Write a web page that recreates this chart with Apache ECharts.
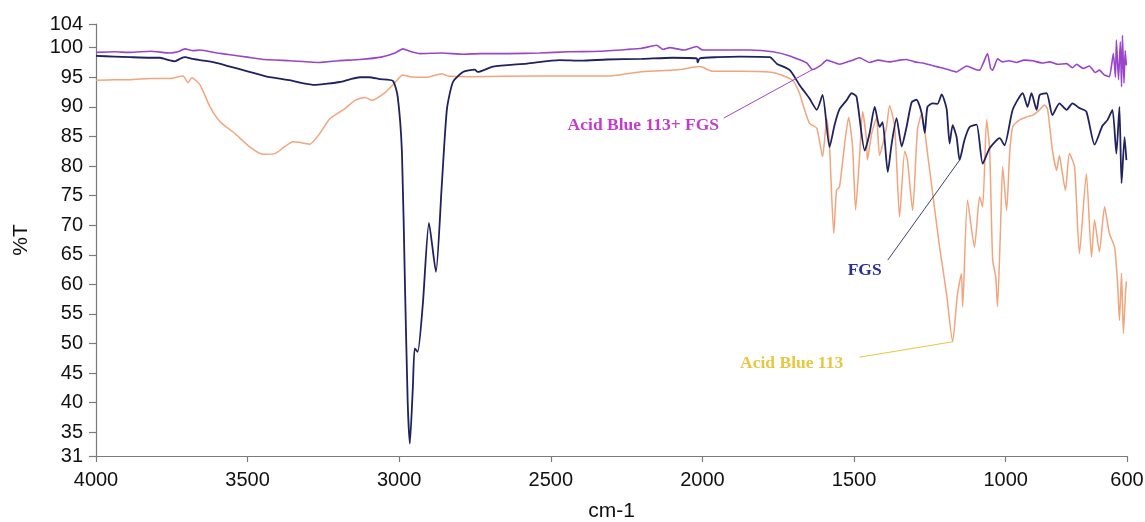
<!DOCTYPE html>
<html>
<head>
<meta charset="utf-8">
<title>FTIR spectra</title>
<script src="https://cdn.jsdelivr.net/npm/echarts@6/dist/echarts.min.js"></script>
<style>
  html, body { margin: 0; padding: 0; background: #ffffff; }
  #chart { width: 1145px; height: 522px; }
</style>
</head>
<body>
<div id="chart"></div>
<script>
// Tick labels
const xTicks = [4000, 3500, 3000, 2500, 2000, 1500, 1000, 600];
const yTicks = [31, 35, 40, 45, 50, 55, 60, 65, 70, 75, 80, 85, 90, 95, 100, 104];

// Acid Blue 113 + FGS  (wavenumber, %T)
const mixWn = [4000,3940,3888,3820,3756,3730,3707,3680,3657,3600,3558,3500,3443,3360,3262,3200,3130,3060,3014,2988,2960,2932,2860,2790,2734,2640,2537,2440,2339,2250,2200,2151,2130,2108,2060,2019,2000,1943,1844,1768,1712,1656,1637,1610,1590,1548,1510,1482,1449,1420,1383,1350,1327,1300,1274,1228,1190,1162,1129,1100,1086,1060,1050,1043,1027,1010,990,964,940,911,880,855,830,799,780,766,745,724,705,691,675,658,645,638,635,628,622,618,615,610,606,602];
const mixT = [99.2,99.3,99.2,99.4,99.1,99.3,99.8,99.5,99.6,99.1,98.8,98.4,98.0,97.8,97.5,97.8,98.0,98.4,99.1,99.8,99.3,99.0,99.1,98.9,99.0,99.0,99.1,99.3,99.4,99.7,99.9,100.4,99.7,100.0,99.6,100.2,99.6,99.6,99.6,99.3,98.6,97.4,96.3,97.0,97.9,97.2,97.8,98.3,97.5,97.9,97.6,97.9,98.0,97.6,97.4,96.8,96.3,95.9,96.9,96.3,96.2,99.0,96.5,96.2,98.1,97.6,97.8,97.5,97.9,97.8,97.4,97.6,97.2,97.3,96.6,97.2,96.5,96.9,95.8,96.2,95.4,95.1,99.0,95.0,101.3,94.6,101.0,93.4,102.1,94.0,99.5,97.0];

// FGS
const fgsWn = [4000,3940,3888,3820,3789,3760,3740,3720,3707,3680,3657,3610,3558,3500,3443,3400,3361,3320,3278,3240,3196,3160,3130,3100,3064,3021,3005,2991,2981,2972,2965,2955,2949,2939,2922,2902,2879,2860,2843,2823,2790,2751,2741,2691,2579,2471,2400,2316,2200,2100,2019,2016,2009,1950,1877,1778,1755,1712,1680,1647,1623,1604,1581,1564,1548,1525,1508,1492,1465,1449,1432,1416,1406,1389,1376,1360,1343,1327,1310,1294,1277,1267,1258,1241,1225,1211,1195,1185,1175,1162,1152,1136,1119,1096,1076,1053,1020,1004,977,944,928,915,898,888,865,846,823,799,780,757,734,707,681,664,648,635,625,618,608,602];
const fgsT = [98.6,98.5,98.4,98.3,98.3,97.9,97.7,98.2,98.4,98.1,97.9,97.5,96.8,96.0,95.2,94.8,94.5,94.0,93.7,93.9,94.2,94.7,95.0,95.0,94.7,94.4,91.7,82.2,59.6,39.9,33.1,42.7,49.2,48.6,56.8,70.4,62.1,76.5,89.5,94.2,95.9,96.3,95.9,96.8,97.3,97.9,97.8,98.0,98.1,98.3,98.2,97.5,98.2,98.4,98.5,98.4,97.3,96.2,93.7,91.4,89.5,92.0,83.2,87.0,89.6,91.1,92.3,91.7,82.6,85.5,90.0,86.6,87.4,79.0,83.8,88.1,83.3,86.6,90.8,91.2,88.9,85.6,90.0,90.6,90.5,92.1,89.7,83.8,86.9,84.9,81.0,84.4,86.6,87.0,80.4,83.0,84.7,83.5,89.5,92.3,90.0,92.3,89.5,92.0,92.3,88.6,90.6,89.5,90.6,89.8,89.2,83.6,86.8,87.8,89.5,82.1,90.0,77.1,84.9,81.0];

// Acid Blue 113
const dyeWn = [4000,3940,3888,3820,3756,3713,3697,3684,3657,3624,3591,3542,3492,3450,3410,3377,3351,3318,3295,3262,3229,3179,3146,3113,3090,3047,3021,2988,2965,2909,2860,2840,2767,2537,2316,2207,2140,2075,2030,2009,1966,1877,1768,1703,1680,1670,1647,1623,1604,1590,1581,1567,1558,1548,1531,1518,1505,1495,1482,1472,1459,1456,1442,1426,1416,1393,1383,1366,1350,1333,1324,1307,1291,1277,1258,1241,1218,1195,1175,1159,1146,1142,1126,1103,1086,1076,1063,1053,1043,1033,1027,1017,1010,997,987,977,954,931,911,888,872,862,846,832,823,813,803,790,773,757,734,717,707,691,674,658,641,631,625,618,612,605,602];
const dyeT = [94.5,94.6,94.6,94.8,94.8,95.2,94.1,94.9,93.7,90.0,87.5,85.5,83.2,82.0,82.1,83.3,84.1,83.9,83.7,85.5,88.0,89.7,91.1,91.6,91.1,92.4,93.7,95.4,95.1,95.0,95.6,95.2,95.1,95.2,95.2,95.9,96.1,96.3,96.7,96.8,96.0,96.0,95.8,94.5,92.3,90.6,87.2,86.4,81.6,88.0,83.3,68.6,75.9,76.5,83.8,88.2,83.3,72.6,81.6,89.2,84.4,81.0,85.5,88.1,81.8,86.6,90.2,86.6,71.4,82.5,81.0,72.5,86.1,88.9,82.2,75.4,66.3,58.4,50.3,58.4,61.8,56.2,74.2,66.3,74.8,73.1,87.8,82.7,64.1,61.3,56.2,69.7,79.9,72.5,82.1,86.6,87.8,88.3,88.6,89.5,90.3,89.6,82.7,79.3,81.8,78.7,75.9,82.1,79.9,65.2,78.7,64.6,70.9,65.5,73.1,68.6,66.3,60.2,53.9,61.9,51.7,58.5,60.5];

// Callout labels: text anchor and leader line, in (wavenumber, %T)
const callouts = [
  { text: 'Acid Blue 113+ FGS', color: '#c43ccc', line: '#a443c8', at: [2195, 86.9], from: [1930, 88.1], to: [1637, 96.3] },
  { text: 'FGS', color: '#2c3190', line: '#3d4466', at: [1465, 62.4], from: [1389, 64.1], to: [1152, 81.0] },
  { text: 'Acid Blue 113', color: '#e8c640', line: '#e8c640', at: [1706, 46.7], from: [1482, 47.7], to: [1175, 50.3] }
];

const zip = (xs, ys) => xs.map((x, i) => [x, ys[i]]);

const chart = echarts.init(document.getElementById('chart'), null, { renderer: 'canvas' });

const axisFont = { fontFamily: 'Liberation Sans', fontSize: 20, color: '#111111' };
const plain = (v) => String(v);

chart.setOption({
  animation: false,
  backgroundColor: '#ffffff',
  grid: { left: 96, right: 18, top: 24, bottom: 66, containLabel: false, outerBoundsMode: 'none' },
  xAxis: {
    type: 'value',
    inverse: true,
    min: 600,
    max: 4000,
    name: 'cm-1',
    nameLocation: 'middle',
    nameGap: 45,
    nameTextStyle: { fontFamily: 'Liberation Sans', fontSize: 21, color: '#111111' },
    axisLine: { show: true, lineStyle: { color: '#7a7a7a', width: 1.2 } },
    axisTick: { show: true, length: 6, lineStyle: { color: '#7a7a7a', width: 1.2 }, customValues: xTicks },
    axisLabel: Object.assign({ margin: 14, customValues: xTicks, formatter: plain }, axisFont),
    splitLine: { show: false }
  },
  yAxis: {
    type: 'value',
    min: 31,
    max: 104,
    name: '%T',
    nameLocation: 'middle',
    nameGap: 64,
    nameRotate: 90,
    nameTextStyle: { fontFamily: 'Liberation Sans', fontSize: 21, color: '#111111' },
    axisLine: { show: true, lineStyle: { color: '#7a7a7a', width: 1.2 } },
    axisTick: { show: true, length: 7, lineStyle: { color: '#7a7a7a', width: 1.2 }, customValues: yTicks },
    axisLabel: Object.assign({ margin: 13, customValues: yTicks, formatter: plain }, axisFont),
    splitLine: { show: false }
  },
  series: [
    {
      name: 'Acid Blue 113', type: 'line', data: zip(dyeWn, dyeT),
      showSymbol: false, smooth: 0.2, z: 2,
      lineStyle: { color: '#f2a47c', width: 1.5 }
    },
    {
      name: 'FGS', type: 'line', data: zip(fgsWn, fgsT),
      showSymbol: false, smooth: 0.2, z: 3,
      lineStyle: { color: '#1f2160', width: 1.8 }
    },
    {
      name: 'Acid Blue 113+ FGS', type: 'line', data: zip(mixWn, mixT),
      showSymbol: false, smooth: 0.15, z: 4,
      lineStyle: { color: '#9a44cc', width: 1.6 }
    }
  ]
});

// Place the callouts using the chart's own coordinate conversion
const toPx = (p) => chart.convertToPixel({ gridIndex: 0 }, p);
const graphics = [];
callouts.forEach((c) => {
  const a = toPx(c.at), f = toPx(c.from), t = toPx(c.to);
  graphics.push({
    type: 'line', z: 10,
    shape: { x1: f[0], y1: f[1], x2: t[0], y2: t[1] },
    style: { stroke: c.line, lineWidth: 1 }
  });
  graphics.push({
    type: 'text', z: 11, x: a[0], y: a[1],
    style: {
      text: c.text, fill: c.color, align: 'center', verticalAlign: 'middle',
      font: 'bold 17.5px "Liberation Serif"'
    }
  });
});
chart.setOption({ graphic: graphics });
</script>
</body>
</html>
